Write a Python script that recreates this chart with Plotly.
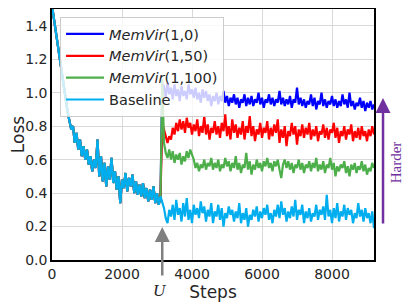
import plotly.graph_objects as go

# x positions (training steps); U is at ~3150
steps = list(range(0, 3101, 50)) + [3150] + list(range(3200, 9201, 50))

# shared curve before the update point U (0..3100)
pre_vals = [1.52, 1.45, 1.38, 1.30, 1.22, 1.15, 1.07, 1.00, 0.93, 0.88,
            0.83, 0.78, 0.80, 0.70, 0.76, 0.66, 0.72, 0.62, 0.68, 0.60,
            0.66, 0.57, 0.62, 0.53, 0.60, 0.55, 0.72, 0.50, 0.62, 0.47,
            0.58, 0.44, 0.56, 0.48, 0.61, 0.46, 0.53, 0.42, 0.50, 0.34,
            0.48, 0.43, 0.52, 0.41, 0.49, 0.44, 0.51, 0.40, 0.47, 0.39,
            0.45, 0.38, 0.46, 0.37, 0.43, 0.35, 0.42, 0.36, 0.44, 0.34,
            0.40, 0.33, 0.38]

baseline_post = [0.34,
    0.31, 0.25, 0.22, 0.30, 0.26, 0.33, 0.24, 0.36, 0.27, 0.31,
    0.23, 0.34, 0.26, 0.37, 0.24, 0.30, 0.22, 0.33, 0.27, 0.31,
    0.25, 0.35, 0.28, 0.32, 0.23, 0.30, 0.26, 0.34, 0.22, 0.29,
    0.26, 0.33, 0.24, 0.31, 0.20, 0.28, 0.25, 0.32, 0.27, 0.30,
    0.23, 0.29, 0.25, 0.34, 0.22, 0.28, 0.24, 0.31, 0.20, 0.27,
    0.24, 0.30, 0.26, 0.32, 0.23, 0.29, 0.25, 0.31, 0.27, 0.33,
    0.24, 0.28, 0.22, 0.30, 0.26, 0.33, 0.25, 0.35, 0.27, 0.31,
    0.23, 0.29, 0.25, 0.32, 0.26, 0.36, 0.24, 0.30, 0.27, 0.33,
    0.22, 0.29, 0.25, 0.31, 0.23, 0.28, 0.26, 0.33, 0.24, 0.30,
    0.27, 0.32, 0.24, 0.39, 0.26, 0.30, 0.22, 0.31, 0.25, 0.34,
    0.23, 0.29, 0.26, 0.33, 0.24, 0.31, 0.27, 0.30, 0.22, 0.28,
    0.25, 0.34, 0.26, 0.30, 0.23, 0.31, 0.25, 0.28, 0.22, 0.29,
    0.19]

m10_post = [1.05,
    1.04, 0.97, 1.06, 0.99, 1.03, 0.96, 1.05, 0.98, 1.02, 0.95,
    1.04, 0.98, 1.01, 0.96, 1.05, 0.99, 1.02, 0.97, 1.03, 0.96,
    1.00, 0.94, 1.02, 0.97, 1.01, 0.95, 0.99, 0.92, 0.98, 0.95,
    1.00, 0.93, 0.98, 0.95, 1.01, 0.94, 0.98, 0.92, 0.97, 0.94,
    0.99, 0.93, 0.97, 0.91, 0.96, 0.94, 0.99, 0.92, 0.97, 0.93,
    0.98, 0.92, 0.96, 0.94, 1.00, 0.93, 0.97, 0.91, 0.96, 0.94,
    0.99, 0.93, 0.97, 0.92, 0.96, 0.94, 1.01, 0.93, 0.97, 0.92,
    0.96, 0.93, 0.98, 0.91, 0.96, 0.94, 1.03, 0.93, 0.97, 0.92,
    0.96, 0.91, 0.95, 0.93, 0.99, 0.92, 0.97, 0.90, 0.95, 0.93,
    1.00, 0.92, 0.96, 0.91, 0.95, 0.93, 0.98, 0.92, 0.96, 0.91,
    0.95, 0.92, 0.99, 0.93, 0.96, 0.91, 1.00, 0.92, 0.95, 0.90,
    0.94, 0.92, 0.97, 0.91, 0.95, 0.89, 0.94, 0.91, 0.95, 0.90,
    0.93]

m150_post = [0.82,
    0.78, 0.73, 0.70, 0.74, 0.72, 0.79, 0.75, 0.82, 0.77, 0.84,
    0.78, 0.83, 0.76, 0.85, 0.79, 0.82, 0.75, 0.81, 0.77, 0.84,
    0.74, 0.80, 0.76, 0.86, 0.75, 0.81, 0.72, 0.79, 0.76, 0.83,
    0.75, 0.80, 0.73, 0.82, 0.77, 0.87, 0.74, 0.80, 0.72, 0.84,
    0.76, 0.81, 0.73, 0.79, 0.75, 0.83, 0.72, 0.80, 0.76, 0.86,
    0.74, 0.80, 0.71, 0.78, 0.75, 0.82, 0.73, 0.79, 0.76, 0.83,
    0.72, 0.79, 0.74, 0.81, 0.76, 0.84, 0.70, 0.78, 0.73, 0.80,
    0.68, 0.77, 0.74, 0.82, 0.75, 0.80, 0.69, 0.78, 0.74, 0.81,
    0.73, 0.79, 0.75, 0.82, 0.72, 0.78, 0.74, 0.80, 0.71, 0.77,
    0.75, 0.81, 0.73, 0.79, 0.72, 0.78, 0.76, 0.82, 0.73, 0.79,
    0.70, 0.77, 0.74, 0.80, 0.72, 0.78, 0.75, 0.81, 0.71, 0.77,
    0.73, 0.79, 0.72, 0.80, 0.74, 0.77, 0.71, 0.78, 0.74, 0.80,
    0.75]

m1100_post = [1.08,
    0.70, 0.64, 0.61, 0.66, 0.60, 0.65, 0.58, 0.63, 0.60, 0.64,
    0.57, 0.62, 0.59, 0.65, 0.61, 0.66, 0.63, 0.60, 0.55, 0.58,
    0.53, 0.57, 0.55, 0.60, 0.54, 0.58, 0.56, 0.61, 0.54, 0.58,
    0.55, 0.60, 0.53, 0.57, 0.55, 0.61, 0.56, 0.59, 0.53, 0.58,
    0.55, 0.62, 0.54, 0.58, 0.52, 0.57, 0.55, 0.64, 0.54, 0.59,
    0.51, 0.57, 0.54, 0.60, 0.55, 0.58, 0.53, 0.59, 0.56, 0.61,
    0.55, 0.58, 0.53, 0.59, 0.56, 0.60, 0.54, 0.49, 0.57, 0.60,
    0.55, 0.59, 0.54, 0.58, 0.52, 0.57, 0.55, 0.60, 0.54, 0.58,
    0.52, 0.57, 0.55, 0.59, 0.53, 0.58, 0.55, 0.61, 0.53, 0.57,
    0.54, 0.59, 0.52, 0.57, 0.55, 0.61, 0.54, 0.58, 0.50, 0.56,
    0.53, 0.57, 0.55, 0.59, 0.52, 0.56, 0.50, 0.57, 0.54, 0.58,
    0.52, 0.56, 0.54, 0.59, 0.53, 0.57, 0.51, 0.55, 0.53, 0.58,
    0.55]

names = ["<i>MemVir</i>(1,0)", "<i>MemVir</i>(1,50)", "<i>MemVir</i>(1,100)", "Baseline"]
colors = ["#0000FF", "#FF0000", "#4DAF4A", "#00AEEF"]
series = [pre_vals + m10_post, pre_vals + m150_post, pre_vals + m1100_post, pre_vals + baseline_post]
for s in series:
    assert len(s) == len(steps), (len(s), len(steps))

fig = go.Figure()
for i, (n, c, s) in enumerate(zip(names, colors, series)):
    fig.add_trace(go.Scatter(x=steps, y=s, mode="lines", name=n,
                             line=dict(color=c, width=2.2)))

# page body has an 8px margin, so the figure is 8px smaller on each used side
fig.update_layout(
    width=407, height=297,
    margin=dict(l=44, r=41, t=1, b=45, autoexpand=False),
    paper_bgcolor="white", plot_bgcolor="white",
    font=dict(family="DejaVu Sans", size=14, color="#262626"),
    showlegend=True,
    legend=dict(x=0.025, y=0.968, xanchor="left", yanchor="top",
                bgcolor="rgba(255,255,255,0.8)", bordercolor="#cccccc", borderwidth=1,
                font=dict(size=14.5, color="#262626"), traceorder="normal",
                itemwidth=38),
)
fig.update_xaxes(range=[0, 9200], tickvals=[0, 2000, 4000, 6000, 8000],
                 showgrid=True, gridcolor="#d9d9d9", gridwidth=1,
                 showline=True, linecolor="black", linewidth=1.5, mirror=True,
                 zeroline=False, ticks="", automargin=False,
                 title=dict(text="Steps", standoff=1))
fig.update_yaxes(range=[0, 1.5], tickvals=[0, 0.2, 0.4, 0.6, 0.8, 1.0, 1.2, 1.4],
                 tickformat=".1f",
                 showgrid=True, gridcolor="#d9d9d9", gridwidth=1,
                 showline=True, linecolor="black", linewidth=1.5, mirror=True,
                 zeroline=False, ticks="", automargin=False,
                 title=dict(text="Loss", standoff=9))

# U arrow
fig.add_annotation(x=3150, y=0.197, xref="x", yref="y", ax=0, ay=50,
                   axref="pixel", ayref="pixel", text="", showarrow=True,
                   arrowhead=2, arrowsize=1.2, arrowwidth=2.5, arrowcolor="#808080")
fig.add_annotation(x=3086, y=-0.12, xref="x", yref="paper", yanchor="middle",
                   text="<i>U</i>", showarrow=False,
                   font=dict(family="Liberation Serif", size=17, color="#262626"))
# Harder arrow
fig.add_annotation(x=1.028, y=0.645, xref="paper", yref="paper", ax=0, ay=127,
                   text="", showarrow=True, arrowhead=2, arrowsize=1.2,
                   arrowwidth=2.5, arrowcolor="#7030A0")
fig.add_annotation(x=1.10, y=0.39, xref="paper", yref="paper", textangle=-90,
                   text="Harder", showarrow=False,
                   font=dict(family="Liberation Serif", size=15, color="#7030A0"))

fig.write_html("out.html")
